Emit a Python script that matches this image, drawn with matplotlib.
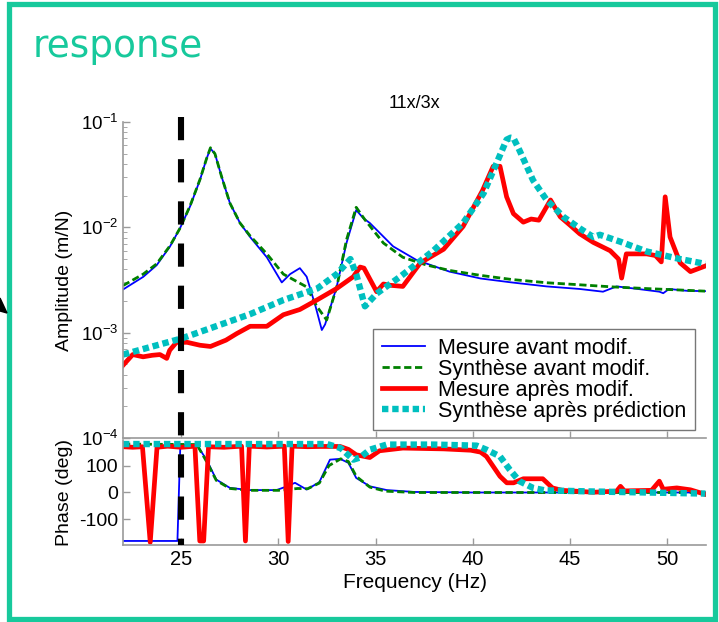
import matplotlib
matplotlib.use("Agg")
import matplotlib.pyplot as plt
import matplotlib.patches as patches
import matplotlib.transforms as transforms
from matplotlib.lines import Line2D
import numpy as np

plt.rcParams['font.family'] = ['Liberation Sans', 'DejaVu Sans']
plt.rcParams['axes.unicode_minus'] = False

# --- amplitude data (Hz, m/N) ---
f_avant = [22.0, 23.04, 23.73, 24.42, 24.93, 25.45, 25.96, 26.3, 26.5, 26.73, 27.08, 27.5,
           28.02, 28.54, 29.4, 30.17, 30.6, 31.1, 31.45, 31.9, 32.23, 32.4, 32.99, 33.5,
           34.0, 34.37, 34.7, 35.9, 37.1, 38.8, 40.4, 42.0, 43.8, 45.5, 46.7, 47.4, 48.5,
           49.6, 49.8, 50.1, 51.0, 51.95]
amp_mes_avant = [2.57e-3, 3.39e-3, 4.37e-3, 6.6e-3, 9.8e-3, 1.58e-2, 2.82e-2, 4.5e-2, 5.6e-2,
                 5.0e-2, 3.0e-2, 1.7e-2, 1.1e-2, 8.1e-3, 5.2e-3, 3.0e-3, 3.6e-3, 4.1e-3,
                 3.4e-3, 1.8e-3, 1.06e-3, 1.2e-3, 2.7e-3, 7.1e-3, 1.46e-2, 1.22e-2, 1.1e-2,
                 6.6e-3, 4.9e-3, 3.8e-3, 3.27e-3, 3.0e-3, 2.75e-3, 2.6e-3, 2.45e-3, 2.75e-3,
                 2.6e-3, 2.45e-3, 2.37e-3, 2.6e-3, 2.5e-3, 2.48e-3]

f_synth_avant = [22.0, 23.04, 23.73, 24.42, 24.93, 25.45, 25.96, 26.3, 26.5, 26.73, 27.08,
                 27.5, 28.02, 28.54, 29.4, 30.25, 31.1, 31.45, 31.97, 32.48, 33.0, 33.5, 34.0,
                 34.45, 35.4, 36.4, 37.6, 38.8, 40.4, 42.0, 43.8, 45.5, 47.2, 49.0, 50.5, 51.95]
amp_synth_avant = [2.8e-3, 3.6e-3, 4.5e-3, 6.7e-3, 9.8e-3, 1.6e-2, 2.85e-2, 4.5e-2, 5.7e-2,
                   5.0e-2, 3.0e-2, 1.7e-2, 1.1e-2, 8.3e-3, 5.6e-3, 3.6e-3, 2.95e-3, 2.72e-3,
                   1.78e-3, 1.32e-3, 2.72e-3, 7.6e-3, 1.55e-2, 1.18e-2, 7.1e-3, 5.2e-3,
                   4.4e-3, 3.9e-3, 3.5e-3, 3.2e-3, 2.98e-3, 2.85e-3, 2.72e-3, 2.62e-3,
                   2.55e-3, 2.48e-3]

f_apres = [22.0, 22.5, 23.03, 23.5, 23.9, 24.25, 24.4, 24.75, 25.3, 25.96, 26.5, 27.3, 27.85,
           28.54, 29.4, 30.25, 31.1, 31.97, 33.0, 33.85, 34.2, 34.4, 35.05, 35.4, 35.74,
           36.4, 37.3, 38.5, 39.5, 40.5, 41.05, 41.4, 41.74, 42.09, 42.6, 43.0, 43.4, 44.0,
           44.5, 45.0, 45.5, 46.2, 47.07, 47.5, 47.66, 47.9, 48.95, 49.4, 49.7, 49.9, 50.15,
           50.67, 51.2, 51.97]
amp_mes_apres = [4.9e-4, 6.2e-4, 5.9e-4, 6.1e-4, 6.2e-4, 5.7e-4, 6.8e-4, 8.1e-4, 8.1e-4,
                 7.6e-4, 7.4e-4, 8.5e-4, 9.8e-4, 1.15e-3, 1.15e-3, 1.48e-3, 1.66e-3,
                 2.04e-3, 2.63e-3, 3.4e-3, 4.2e-3, 4.1e-3, 2.45e-3, 2.9e-3, 2.82e-3,
                 2.75e-3, 4.6e-3, 6.2e-3, 1.02e-2, 2.24e-2, 3.8e-2, 3.8e-2, 1.95e-2,
                 1.35e-2, 1.12e-2, 1.2e-2, 1.17e-2, 1.82e-2, 1.26e-2, 1.05e-2, 8.7e-3,
                 7.2e-3, 6.0e-3, 5.0e-3, 3.3e-3, 5.6e-3, 5.6e-3, 5.4e-3, 4.7e-3, 1.95e-2,
                 8.1e-3, 4.6e-3, 3.8e-3, 4.3e-3]

f_pred = [22.0, 25.0, 28.54, 30.25, 32.0, 33.0, 33.7, 34.0, 34.45, 35.05, 36.26, 37.97,
          39.5, 40.55, 41.23, 41.74, 41.95, 42.1, 42.4, 43.1, 43.8, 44.66, 45.5, 46.2,
          46.54, 47.6, 48.95, 50.67, 51.97]
amp_synth_apres = [6.2e-4, 8.8e-4, 1.5e-3, 2.04e-3, 2.63e-3, 3.6e-3, 5.0e-3, 3.6e-3,
                   1.78e-3, 2.35e-3, 3.4e-3, 6.0e-3, 1.1e-2, 2.1e-2, 4.1e-2, 6.8e-2,
                   7.1e-2, 7.0e-2, 5.4e-2, 2.8e-2, 1.82e-2, 1.26e-2, 9.8e-3, 8.1e-3,
                   8.5e-3, 7.3e-3, 5.9e-3, 5.0e-3, 4.5e-3]

# --- phase data (deg) ---
fp_avant = [22.0, 24.8, 24.95, 25.8, 26.3, 26.8, 27.5, 28.5, 29.9, 30.4, 30.85, 31.45, 32.1,
            32.65, 33.17, 33.6, 34.0, 34.7, 35.57, 37.0, 40.0, 45.0, 51.97]
ph_mes_avant = [-180, -180, 178, 176, 122, 48, 17, 9, 9, 22, 36, 11, 38, 122, 125, 110, 54,
                23, 9, 2, 0, 0, 0]

fp_synth_avant = [22.0, 25.8, 26.3, 26.8, 27.5, 28.5, 30.0, 31.0, 31.5, 32.1, 32.6, 33.2,
                  33.6, 34.0, 34.7, 35.5, 37.0, 40.0, 45.0, 51.97]
ph_synth_avant = [180, 178, 115, 45, 15, 8, 8, 15, 14, 35, 100, 125, 115, 60, 20, 5, 0, 0, 0, 0]

fp_apres = [22.0, 22.5, 23.0, 23.4, 23.75, 24.3, 25.0, 25.7, 25.95, 26.15, 26.4, 27.2, 28.1,
            28.3, 28.5, 29.4, 30.3, 30.5, 30.7, 31.5, 32.14, 33.17, 33.6, 34.0, 34.7, 35.2,
            36.4, 38.5, 39.9, 40.4, 40.7, 41.05, 41.4, 41.75, 42.1, 42.6, 43.6, 44.1, 44.6,
            46.2, 47.4, 47.6, 47.8, 49.2, 49.6, 49.8, 50.5, 51.2, 51.97]
ph_mes_apres = [170, 168, 170, -185, 168, 172, 168, 172, -180, -180, 170, 168, 172, -180, 172,
                169, 172, -182, 172, 170, 171, 171, 160, 140, 130, 155, 165, 162, 157, 150,
                134, 97, 60, 36, 36, 51, 51, 17, 8, 1, 5, 23, 6, 8, 42, 12, 17, 10, -7]

fp_pred = [22.0, 32.5, 33.2, 33.85, 34.2, 34.7, 35.57, 38.0, 40.2, 40.7, 41.4, 41.9, 42.4,
           43.1, 43.7, 46.0, 51.97]
ph_synth_apres = [180, 180, 165, 122, 130, 159, 178, 178, 174, 159, 134, 85, 42, 17, 8, 4, -4]

freq_ticks = [25, 30, 35, 40, 45, 50]
phase_ticks = [-100, 0, 100]
f_mark = 25

labels = ['Mesure avant modif.', 'Synthèse avant modif.',
          'Mesure après modif.', 'Synthèse après prédiction']

frame_green = '#17c99c'
spine_grey = '#9a9a9a'

fig = plt.figure(figsize=(7.19, 6.22), dpi=100)
ax1 = fig.add_axes([0.1711, 0.2958, 0.8108, 0.5080])
ax2 = fig.add_axes([0.1711, 0.1238, 0.8108, 0.1688])

styles = [
    dict(color='#0000ff', lw=1.3),
    dict(color='#008000', lw=2.0, linestyle=(0, (2.6, 1.3))),
    dict(color='#ff0000', lw=3.4),
    dict(color='#00bfbf', lw=4.6, linestyle=(0, (1.0, 0.6))),
]

ax1.plot(f_avant, amp_mes_avant, label=labels[0], **styles[0])
ax1.plot(f_synth_avant, amp_synth_avant, label=labels[1], **styles[1])
ax1.plot(f_apres, amp_mes_apres, label=labels[2], **styles[2])
ax1.plot(f_pred, amp_synth_apres, label=labels[3], **styles[3])
ax1.set_yscale('log')
ax1.set_ylim(1e-4, 1e-1)
ax1.set_xlim(22, 52)
ax1.set_xticks(freq_ticks)
ax1.set_xticklabels([])
ax1.set_ylabel('Amplitude (m/N)', fontsize=14)
ax1.yaxis.set_label_coords(-0.085, 0.5)
ax1.set_title('11x/3x', fontsize=13, pad=10)

ax2.plot(fp_avant, ph_mes_avant, **styles[0])
ax2.plot(fp_synth_avant, ph_synth_avant, **styles[1])
ax2.plot(fp_apres, ph_mes_apres, **styles[2])
ax2.plot(fp_pred, ph_synth_apres, **styles[3])
ax2.set_xlim(22, 52)
ax2.set_ylim(-195, 195)
ax2.set_xticks(freq_ticks)
ax2.set_yticks(phase_ticks)
ax2.set_xlabel('Frequency (Hz)', fontsize=15, labelpad=3)
ax2.set_ylabel('Phase (deg)', fontsize=14)
ax2.yaxis.set_label_coords(-0.085, 0.5)

for ax in (ax1, ax2):
    ax.spines['right'].set_visible(False)
    ax.spines['top'].set_visible(False)
    for s in ('left', 'bottom'):
        ax.spines[s].set_color(spine_grey)
        ax.spines[s].set_linewidth(1.2)
    ax.tick_params(direction='in', colors=spine_grey, labelcolor='black',
                   labelsize=14, length=5, width=1.0)
    ax.tick_params(which='minor', direction='in', colors=spine_grey, length=3)
ax1.tick_params(axis='y', labelsize=13.5)
ax2.tick_params(axis='x', labelsize=14.5)

leg = ax1.legend(loc='lower right', bbox_to_anchor=(0.981, 0.025), borderaxespad=0,
                 fontsize=15.5, labelspacing=0.0, handlelength=2.0, handletextpad=0.6,
                 borderpad=0.4, fancybox=False, framealpha=1)
leg.get_frame().set_edgecolor('#777777')
leg.get_frame().set_linewidth(1.0)

# dashed marker line at the modification frequency, across both panels
trans = transforms.blended_transform_factory(ax1.transData, fig.transFigure)
fig.add_artist(Line2D([f_mark, f_mark], [0.812, 0.124], transform=trans, color='black',
                      lw=4.4, linestyle=(0, (3.8, 3.1))))

# green frame and heading
fig.add_artist(patches.Rectangle((0.0132, 0.0048), 0.981, 0.989, transform=fig.transFigure,
                                 fill=False, edgecolor=frame_green, lw=3.8))
fig.text(0.046, 0.908, 'response', color=frame_green, fontsize=27,
         family=['DejaVu Sans'], va='baseline', ha='left')

# small arrow tip cut by the left edge
W, H = 719.0, 622.0
tip = [(0 / W, 1 - 298 / H), (7 / W, 1 - 313 / H), (0 / W, 1 - 311 / H)]
fig.add_artist(patches.Polygon(tip, closed=True, color='black', transform=fig.transFigure))

fig.savefig('out.png', dpi=100)
